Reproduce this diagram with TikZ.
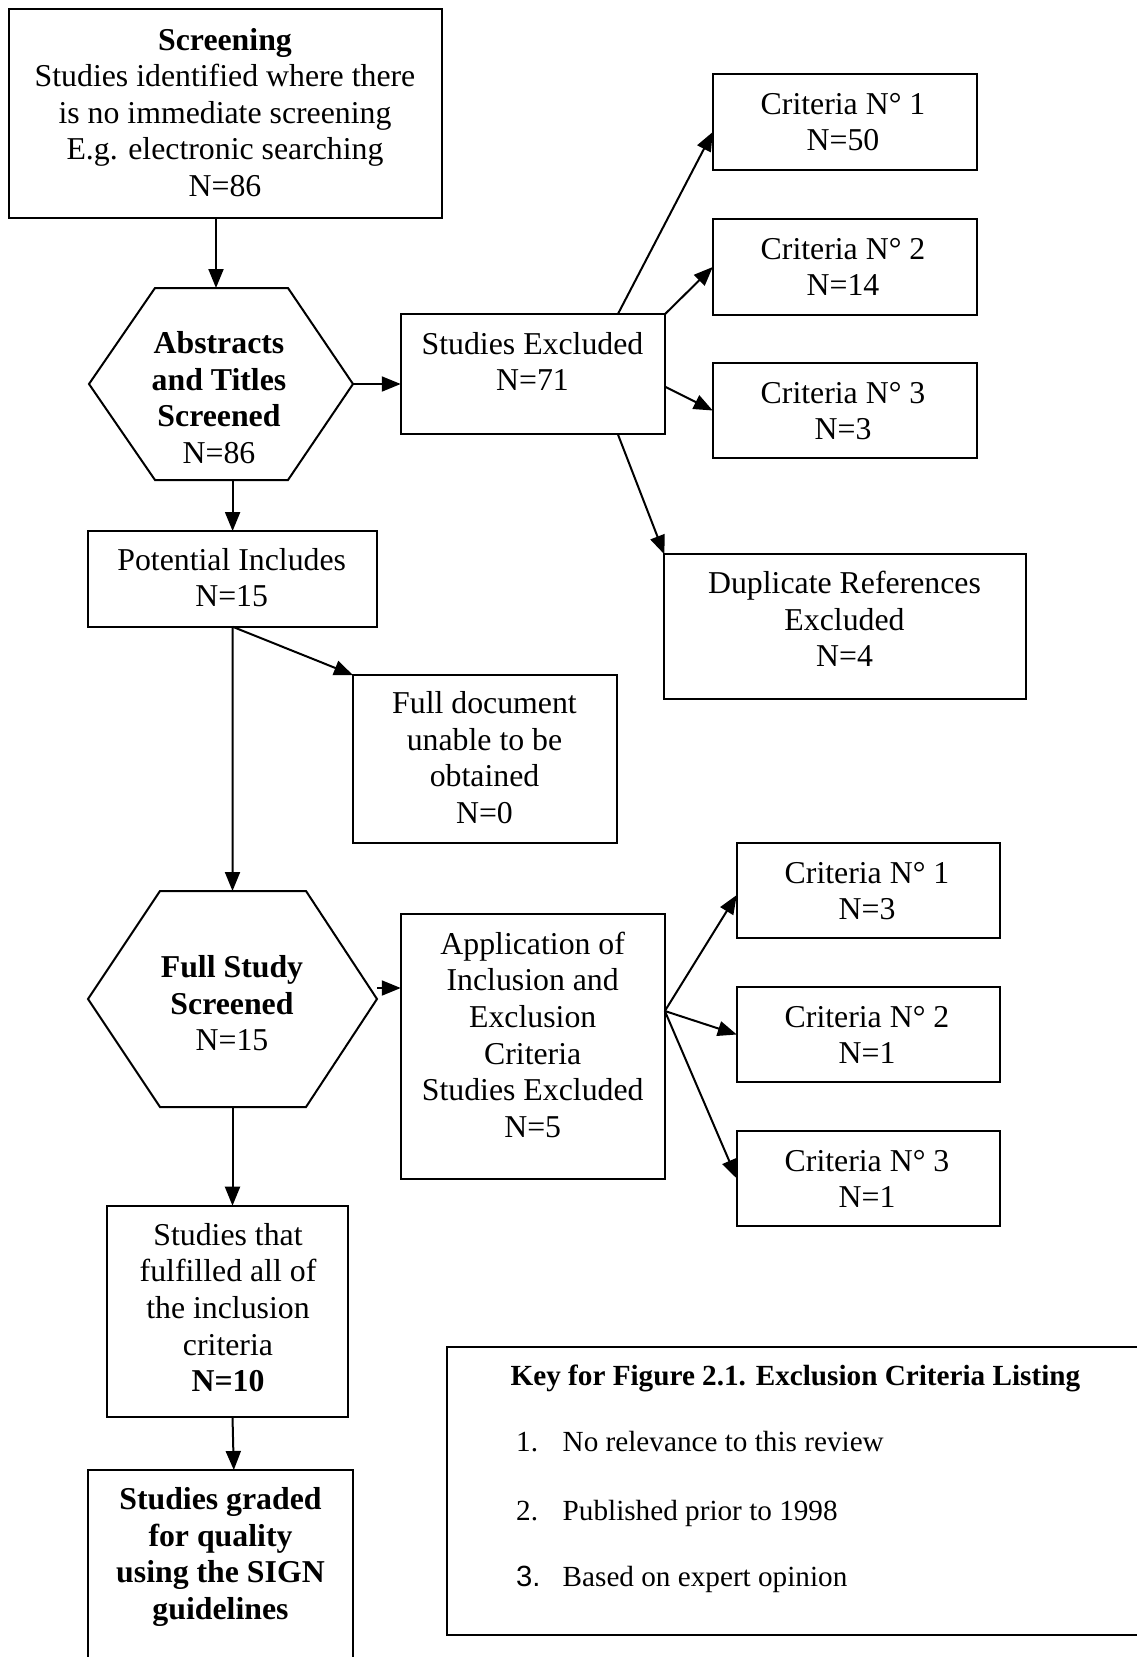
\documentclass[tikz,border=0pt]{standalone}
\usepackage{fontspec}
\setmainfont{Liberation Serif}
\newfontfamily\arialfont{Liberation Sans}
\usetikzlibrary{arrows.meta}
\newcommand{\mainfs}{\fontsize{31.8}{36.6}\selectfont}
\newcommand{\keyfs}{\fontsize{29.2}{33.6}\selectfont}
\newcommand{\fst}{\rule{0pt}{24pt}}
\tikzset{
  box/.style={draw, line width=2pt, rectangle, inner sep=0pt, outer sep=0pt},
  hexbb/.style={rectangle, inner sep=0pt, outer sep=0pt},
  hexline/.style={draw, line width=2pt, line join=miter},
  txt/.style={anchor=north, inner sep=0pt, align=center, font=\mainfs},
  ktxt/.style={anchor=base west, inner sep=0pt, font=\keyfs},
  conn/.style={line width=2pt, -{Triangle[length=19pt,width=15pt]}}
}
\begin{document}
\begin{tikzpicture}[x=1pt, y=-1pt]
\useasboundingbox (0,0) rectangle (1137,1657);
\clip (0,0) rectangle (1137,1657);
\fill[white] (0,0) rectangle (1137,1657);

% boxes
\node[box, minimum width=432.7pt, minimum height=209pt] (scr) at (225.3,113.5) {};
\node[box, minimum width=264.3pt, minimum height=120.3pt] (se) at (532.9,374.2) {};
\node[box, minimum width=264.3pt, minimum height=96pt] (c1) at (844.9,122) {};
\node[box, minimum width=264.3pt, minimum height=96pt] (c2) at (844.9,267) {};
\node[box, minimum width=264.3pt, minimum height=95pt] (c3) at (844.9,410.5) {};
\node[box, minimum width=361.7pt, minimum height=144.7pt] (dup) at (845.2,626.7) {};
\node[box, minimum width=288.8pt, minimum height=95.7pt] (pi) at (232.6,578.9) {};
\node[box, minimum width=263.8pt, minimum height=167.7pt] (fd) at (484.9,758.9) {};
\node[box, minimum width=264.1pt, minimum height=264.7pt] (app) at (532.8,1046.7) {};
\node[box, minimum width=263.3pt, minimum height=95pt] (lc1) at (868.4,890.5) {};
\node[box, minimum width=263.3pt, minimum height=95pt] (lc2) at (868.4,1034.5) {};
\node[box, minimum width=263.3pt, minimum height=95pt] (lc3) at (868.4,1178.5) {};
\node[box, minimum width=240.4pt, minimum height=211pt] (sf) at (227.5,1311.2) {};
\node[box, minimum width=265pt, minimum height=220pt] (gr) at (220.8,1580) {};
\node[box, minimum width=713.5pt, minimum height=288pt] (key) at (803.3,1491) {};

% hexagons
\node[hexbb, minimum width=264pt, minimum height=192pt] (h1) at (221,384) {};
\draw[hexline] (h1.west) -- ([xshift=66pt]h1.north west) -- ([xshift=-65pt]h1.north east) -- (h1.east) -- ([xshift=-65pt]h1.south east) -- ([xshift=66pt]h1.south west) -- cycle;
\node[hexbb, minimum width=289pt, minimum height=216pt] (h2) at (232.5,999) {};
\draw[hexline] (h2.west) -- ([xshift=72pt]h2.north west) -- ([xshift=-71pt]h2.north east) -- (h2.east) -- ([xshift=-71pt]h2.south east) -- ([xshift=72pt]h2.south west) -- cycle;

% texts
\node[txt] (tscr) at (225,25.8) {\fst\textbf{Screening}\\Studies identified where there\\is no immediate screening\\E.g. electronic searching\\N=86};
\node[txt] (th1) at (219,329.3) {\fst\textbf{Abstracts}\\\textbf{and Titles}\\\textbf{Screened}\\N=86};
\node[txt] (tse) at (532.5,330) {\fst Studies Excluded\\N=71};
\node[txt] (tc1) at (843,90) {\fst Criteria N° 1\\N=50};
\node[txt] (tc2) at (843,235) {\fst Criteria N° 2\\N=14};
\node[txt] (tc3) at (843,379) {\fst Criteria N° 3\\N=3};
\node[txt] (tdup) at (844.5,569.3) {\fst Duplicate References\\Excluded\\N=4};
\node[txt] (tpi) at (231.7,546) {\fst Potential Includes\\N=15};
\node[txt] (tfd) at (484.5,689.3) {\fst Full document\\unable to be\\obtained\\N=0};
\node[txt] (th2) at (232,953.3) {\fst\textbf{Full Study}\\\textbf{Screened}\\N=15};
\node[txt] (tapp) at (532.7,930) {\fst Application of\\Inclusion and\\Exclusion\\Criteria\\Studies Excluded\\N=5};
\node[txt] (tlc1) at (867,859) {\fst Criteria N° 1\\N=3};
\node[txt] (tlc2) at (867,1003) {\fst Criteria N° 2\\N=1};
\node[txt] (tlc3) at (867,1147) {\fst Criteria N° 3\\N=1};
\node[txt] (tsf) at (228,1221) {\fst Studies that\\fulfilled all of\\the inclusion\\criteria\\\textbf{N=10}};
\node[txt] (tgr) at (220.5,1485.5) {\fst\textbf{Studies graded}\\\textbf{for quality}\\\textbf{using the SIGN}\\\textbf{guidelines}};

% key
\node[ktxt] (ktitle) at (510.4,1385) {\textbf{Key for Figure 2.1. Exclusion Criteria Listing}};
\node[ktxt] (kn1) at (516,1451.7) {1.};
\node[ktxt] (kt1) at (562.5,1451.7) {No relevance to this review};
\node[ktxt] (kn2) at (516,1520) {2.};
\node[ktxt] (kt2) at (562.5,1520) {Published prior to 1998};
\node[ktxt] (kn3) at (516,1586.7) {{\arialfont 3.}};
\node[ktxt] (kt3) at (562.5,1586.7) {Based on expert opinion};

% connectors
\draw[conn] ([xshift=-9.3pt]scr.south) -- ([xshift=-5pt]h1.north);
\draw[conn] (h1.east) -- (h1.east -| se.west);
\draw[conn] ([xshift=85pt]se.north) -- ([yshift=-10pt]c1.west);
\draw[conn] (se.north east) -- (c2.west);
\draw[conn] ([yshift=-12.5pt]se.east) -- (c3.west);
\draw[conn] ([xshift=85pt]se.south) -- (dup.north west);
\draw[conn] (pi.north |- h1.south) -- (pi.north);
\draw[conn] (pi.south) -- (fd.north west);
\draw[conn] (pi.south) -- (h2.north);
\draw[conn] ([yshift=11pt]h2.east) -- ([yshift=11pt]h2.east -| app.west);
\coordinate (appout) at ([yshift=35.7pt]app.east);
\draw[conn] (appout) -- ([yshift=-4.5pt]lc1.west);
\draw[conn] (appout) -- (lc2.west);
\draw[conn] (appout) -- (lc3.west);
\draw[conn] (h2.south) -- (h2.south |- sf.north);
\draw[conn] ([xshift=5pt]sf.south) -- ([xshift=13pt]gr.north);
\end{tikzpicture}
\end{document}
